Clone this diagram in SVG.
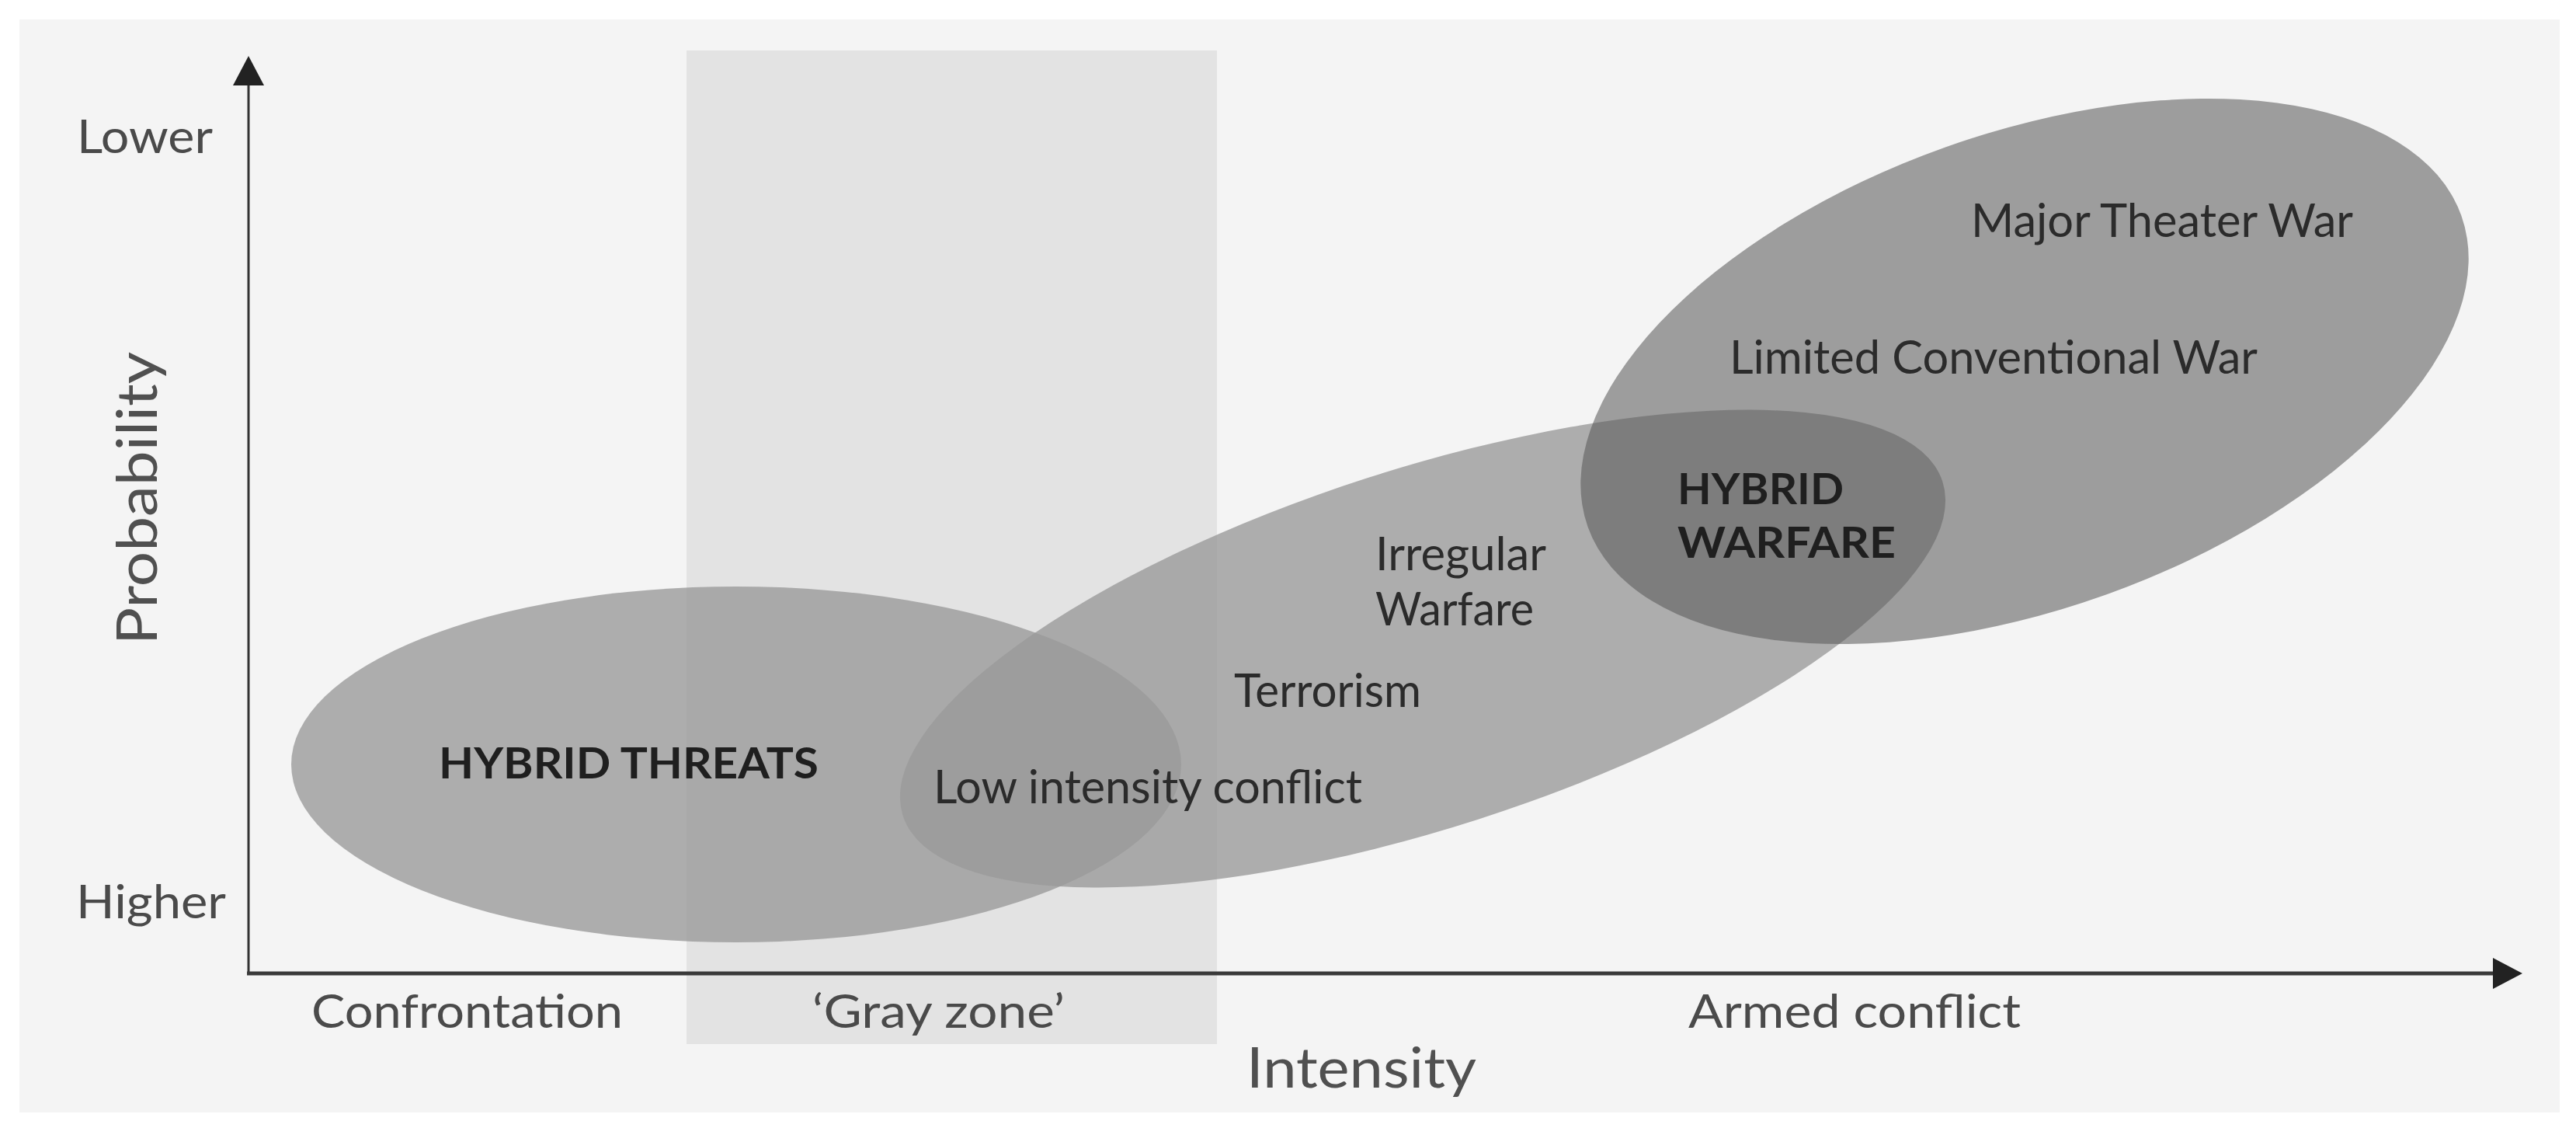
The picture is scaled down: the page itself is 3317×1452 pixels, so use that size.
<svg xmlns="http://www.w3.org/2000/svg" width="3317" height="1452" viewBox="0 0 3317 1452">
<style>
.lbl{font-family:Lato,"Open Sans","Liberation Sans",sans-serif;font-size:60px;fill:#2b2b2b}
.ax{font-family:Lato,"Open Sans","Liberation Sans",sans-serif;font-size:60px;fill:#4a4a4a}
.axt{font-family:Lato,"Open Sans","Liberation Sans",sans-serif;font-size:72px;fill:#505050}
.bold{font-family:Lato,"Open Sans","Liberation Sans",sans-serif;font-size:56px;font-weight:bold;fill:#1f1f1f}
.e1{fill:#9a9a9a;fill-opacity:0.79}
.e2{fill:#565656;fill-opacity:0.55}
</style>
<defs>
<marker id="arr" viewBox="0 0 40 40" refX="0" refY="20" markerWidth="40" markerHeight="40" markerUnits="userSpaceOnUse" orient="auto">
<path d="M0,0 L38,20 L0,40 Z" fill="#222"/>
</marker>
</defs>
<rect x="0" y="0" width="3317" height="1452" fill="#ffffff"/>
<rect x="25" y="25" width="3271" height="1407" fill="#f4f4f4"/>
<rect id="grayzone" x="884" y="65" width="683" height="1279" fill="#e3e3e3"/>
<g id="hybrid-threats">
<ellipse class="e1" cx="948" cy="984" rx="573" ry="229"/>
</g>
<g id="irregular">
<ellipse class="e1" cx="1832" cy="835" rx="703" ry="231" transform="rotate(-17.8 1832 835)"/>
</g>
<g id="conventional">
<ellipse class="e2" cx="2607" cy="478" rx="597" ry="306" transform="rotate(-19.6 2607 478)"/>
</g>
<g id="connectors">
<line x1="320" y1="1253" x2="320" y2="110" stroke="#333" stroke-width="3" marker-end="url(#arr)"/>
<line x1="318" y1="1253" x2="3210" y2="1253" stroke="#3a3a3a" stroke-width="5" marker-end="url(#arr)"/>
</g>
<g id="axis-labels">
<text class="ax" x="99" y="197" textLength="175" lengthAdjust="spacingAndGlyphs">Lower</text>
<text class="ax" x="98" y="1182" textLength="193" lengthAdjust="spacingAndGlyphs">Higher</text>
<text class="axt" transform="translate(202 830) rotate(-90)" x="0" y="0" textLength="377" lengthAdjust="spacingAndGlyphs">Probability</text>
<text class="ax" x="401" y="1323" textLength="401" lengthAdjust="spacingAndGlyphs">Confrontation</text>
<text class="ax" x="1046" y="1323" textLength="325" lengthAdjust="spacingAndGlyphs">‘Gray zone’</text>
<text class="ax" x="2174" y="1323" textLength="428" lengthAdjust="spacingAndGlyphs">Armed conflict</text>
<text class="axt" x="1605" y="1400" textLength="296" lengthAdjust="spacingAndGlyphs">Intensity</text>
</g>
<g id="labels">
<text class="bold" x="565" y="1002" textLength="489" lengthAdjust="spacingAndGlyphs">HYBRID THREATS</text>
<text class="lbl" x="1202" y="1034" textLength="552" lengthAdjust="spacingAndGlyphs">Low intensity conflict</text>
<text class="lbl" x="1589" y="910" textLength="241" lengthAdjust="spacingAndGlyphs">Terrorism</text>
<text class="lbl" x="1771" y="734" textLength="220" lengthAdjust="spacingAndGlyphs">Irregular</text>
<text class="lbl" x="1771" y="805" textLength="204" lengthAdjust="spacingAndGlyphs">Warfare</text>
<text class="bold" x="2160" y="649" textLength="214" lengthAdjust="spacingAndGlyphs">HYBRID</text>
<text class="bold" x="2160" y="718" textLength="281" lengthAdjust="spacingAndGlyphs">WARFARE</text>
<text class="lbl" x="2538" y="305" textLength="492" lengthAdjust="spacingAndGlyphs">Major Theater War</text>
<text class="lbl" x="2227" y="481" textLength="680" lengthAdjust="spacingAndGlyphs">Limited Conventional War</text>
</g>
</svg>
